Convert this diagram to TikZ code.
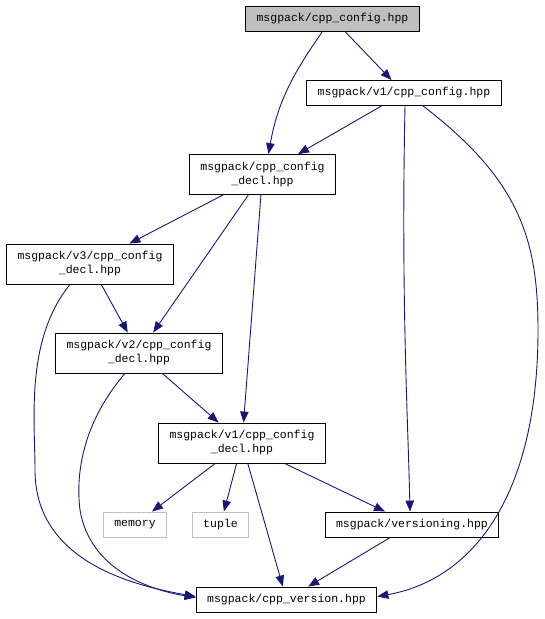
\documentclass[tikz,border=0pt]{standalone}
\usepackage{fontspec}
\setmonofont{Liberation Mono}
\usepackage{tikz}
\usetikzlibrary{arrows.meta}
\usepackage{xcolor}
\definecolor{edgeBlue}{rgb}{0.1,0.1,0.44}
\definecolor{nodeGrey}{rgb}{0.75,0.75,0.75}

\begin{document}
\begin{tikzpicture}[x=1pt, y=-1pt,
  file/.style={draw=black, line width=0.9pt, inner xsep=11pt, inner ysep=0pt, minimum height=25pt, font=\fontsize{11.5}{14}\ttfamily, align=center},
  twoline/.style={file, minimum height=40pt},
  sysfile/.style={file, draw=nodeGrey},
  link/.style={edgeBlue, line width=0.9pt, -{Triangle[length=11pt,width=8.5pt]}}]
	\useasboundingbox (0,0) rectangle (545,619);
	\node[file, fill=nodeGrey] (top) at (332.5,18.5) {msgpack/cpp\_config.hpp};
	\node[file] (vonecfg) at (404,93) {msgpack/v1/cpp\_config.hpp};
	\node[twoline] (decl) at (262.5,174.5) {msgpack/cpp\_config\\\_decl.hpp};
	\node[twoline] (vthree) at (90,264) {msgpack/v3/cpp\_config\\\_decl.hpp};
	\node[twoline] (vtwo) at (139,353) {msgpack/v2/cpp\_config\\\_decl.hpp};
	\node[twoline] (vone) at (242,443) {msgpack/v1/cpp\_config\\\_decl.hpp};
	\node[sysfile] (memory) at (135,524.5) {memory};
	\node[sysfile] (tuple) at (220.5,524.5) {tuple};
	\node[file] (versioning) at (412,524.5) {msgpack/versioning.hpp};
	\node[file] (version) at (286.5,599.5) {msgpack/cpp\_version.hpp};

	\draw[link] ([xshift=-10pt]top.south) to[out=235, in=80] ([xshift=6pt]decl.north);
	\draw[link] (top) -- (vonecfg);
	\draw[link] (vonecfg) -- (decl);
	\draw[link] ([xshift=1pt]vonecfg.south) .. controls (401,300) and (408,420) .. ([xshift=-2pt]versioning.north);
	\draw[link] ([xshift=19pt]vonecfg.south) .. controls (520,180) and (538,240) .. (538,330) .. controls (538,500) and (470,580) .. ([yshift=3pt]version.east);
	\draw[link] (decl) -- (vthree);
	\draw[link] (decl) -- (vtwo);
	\draw[link] (decl) -- (vone);
	\draw[link] (vthree) -- (vtwo);
	\draw[link] ([xshift=-20pt]vthree.south) .. controls (25,340) and (35,420) .. (35,470) .. controls (35,560) and (130,585) .. ([yshift=3pt]version.west);
	\draw[link] (vtwo) -- (vone);
	\draw[link] ([xshift=-14pt]vtwo.south) .. controls (85,420) and (75,470) .. (80,510) .. controls (90,570) and (150,590) .. ([yshift=2pt]version.west);
	\draw[link] (vone) -- (memory);
	\draw[link] (vone) -- (tuple);
	\draw[link] (vone) -- (versioning);
	\draw[link] (vone) -- (version);
	\draw[link] (versioning) -- (version);
\end{tikzpicture}
\end{document}
